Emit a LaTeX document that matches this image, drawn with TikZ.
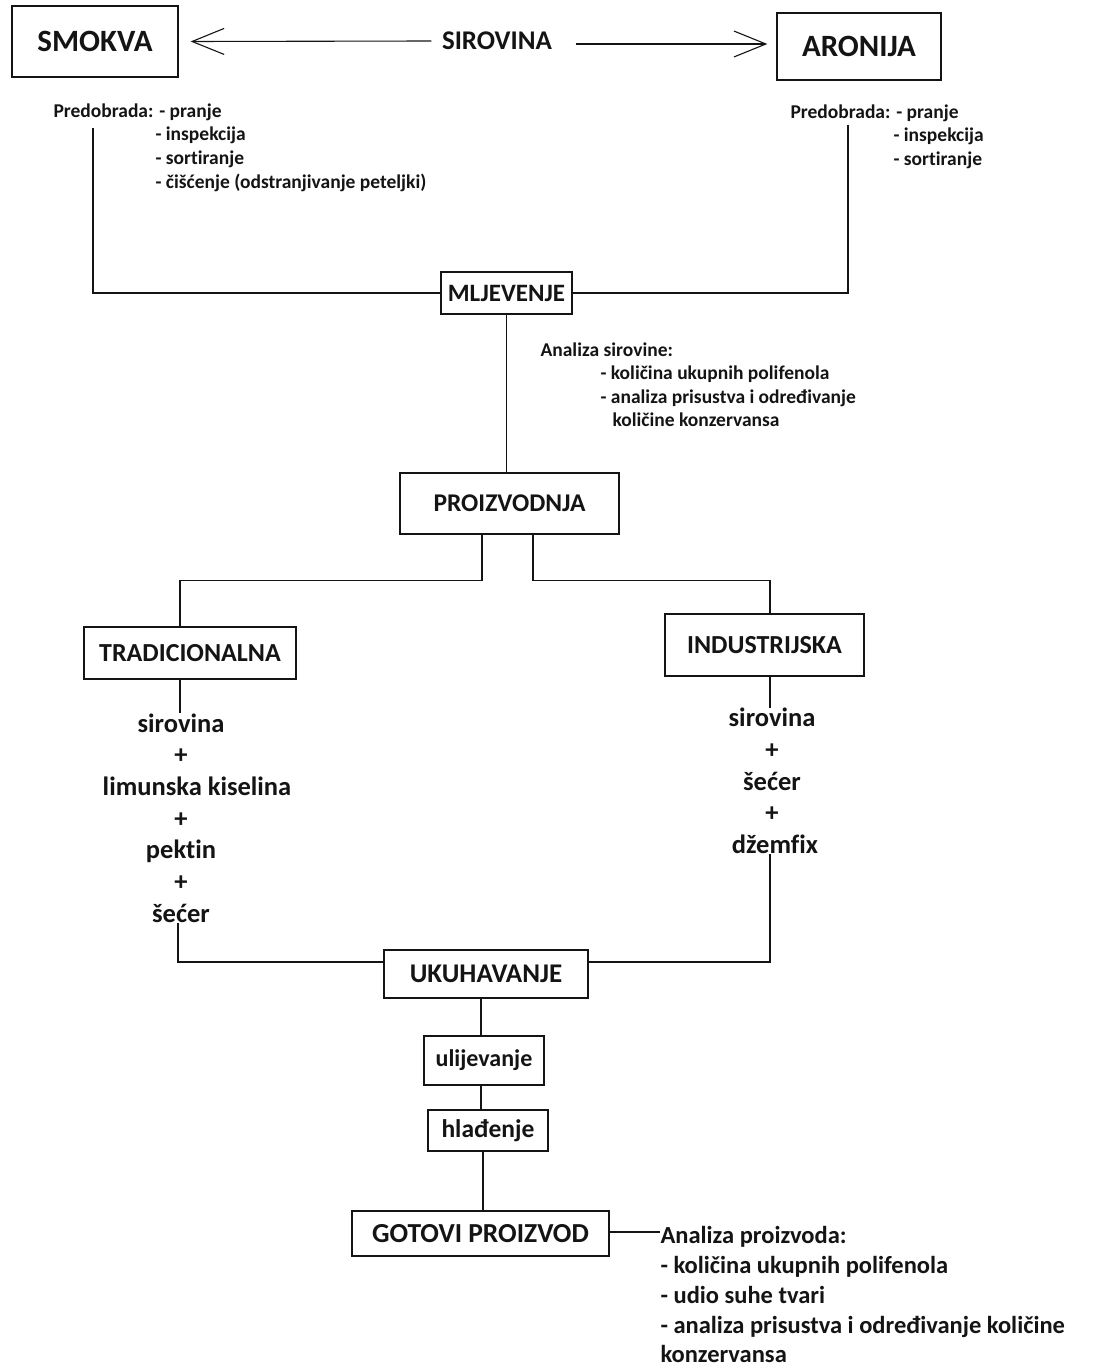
\documentclass[tikz,border=0pt]{standalone}
\usepackage{fontspec}
\setmainfont{Carlito}[Ligatures=NoCommon]
\usetikzlibrary{arrows.meta}
\begin{document}
\begin{tikzpicture}[x=1pt,y=-1pt, line width=1.1pt, color=black!92,
  box/.style={draw, line width=1.3pt, inner sep=0pt, align=center,
    font=\bfseries\fontsize{#1}{#1}\selectfont, text height=#1*0.64pt, text depth=0pt},
  lowbox/.style={box=#1, text height=#1*0.74pt, text depth=#1*0.2pt},
  lbl/.style={inner sep=0pt, font=\bfseries\fontsize{#1}{#1}\selectfont, text height=#1*0.64pt, text depth=0pt},
  txt/.style={inner sep=0pt, font=\bfseries\fontsize{19.5}{23.7}\selectfont, align=left},
  ing/.style={inner sep=0pt, font=\bfseries\fontsize{26.5}{31.7}\selectfont, align=center},
  barb/.style={-{Straight Barb[length=32pt,width=26pt]}}]
\useasboundingbox[fill=white] (0,0) rectangle (1098,1370);

% top row
\node[box=31, minimum width=166pt, minimum height=71pt] (smokva) at (95,41.5) {SMOKVA};
\node[box=31, minimum width=164pt, minimum height=67pt] (aronija) at (859,46.5) {ARONIJA};
\node[lbl=27] (sirovina) at (497,41) {SIROVINA};
\draw[barb] ([xshift=-10pt]sirovina.west) -- ([xshift=12pt]smokva.east);
\draw[barb] ([xshift=23pt,yshift=-3pt]sirovina.east) -- ([xshift=-9pt,yshift=2.5pt]aronija.west);

% pretreatment
\node[txt, anchor=north west] (preL) at (53,103) {Predobrada: - pranje\\\hspace*{102pt}- inspekcija\\\hspace*{102pt}- sortiranje\\\hspace*{102pt}- čišćenje (odstranjivanje peteljki)};
\node[txt, anchor=north west] (preR) at (790,104) {Predobrada: - pranje\\\hspace*{103pt}- inspekcija\\\hspace*{103pt}- sortiranje};

% milling
\node[box=25, minimum width=131pt, minimum height=42pt] (mlj) at (506.5,293) {MLJEVENJE};
\coordinate (pL) at (93,128);
\coordinate (pR) at (848,125);
\draw (pL) |- (mlj.west);
\draw (pR) |- (mlj.east);

\node[txt, anchor=north west, font=\bfseries\fontsize{19.5}{23.5}\selectfont] (anaS) at (540,342) {Analiza sirovine:\\\hspace*{60pt}- količina ukupnih polifenola\\\hspace*{60pt}- analiza prisustva i određivanje\\\hspace*{72pt}količine konzervansa};

% production
\node[box=25.5, minimum width=219pt, minimum height=61pt] (pro) at (509.5,503.5) {PROIZVODNJA};
\draw (mlj.south) -- (mlj.south |- pro.north);

\node[box=26, minimum width=212pt, minimum height=52pt] (trad) at (190,653) {TRADICIONALNA};
\node[box=26, minimum width=199pt, minimum height=62pt] (ind) at (764.5,645) {INDUSTRIJSKA};
\draw ([xshift=-27.5pt]pro.south) -- ++(0,46) -| ([xshift=-10pt]trad.north);
\draw ([xshift=23.5pt]pro.south) -- ++(0,46) -| ([xshift=5.5pt]ind.north);

% ingredients
\node[ing] (tradIng) at (181,818) {sirovina\\+\\\hspace*{32pt}limunska kiselina\\+\\pektin\\+\\šećer};
\node[ing] (indIng) at (772,781) {sirovina\\+\\šećer\\+\\\hspace*{6pt}džemfix};
\draw ([xshift=-10pt]trad.south) -- ([xshift=-10pt]trad.south |- tradIng.north);
\draw ([xshift=5.5pt]ind.south) -- ([xshift=5.5pt]ind.south |- indIng.north);

% cooking
\node[box=27, minimum width=204pt, minimum height=48pt] (uku) at (486,974) {UKUHAVANJE};
\draw ([xshift=-3pt]tradIng.south) |- ([yshift=12pt]uku.west);
\draw (indIng.south -| ind.south) ++(5.5,0) |- ([yshift=12pt]uku.east);

\node[lowbox=24, minimum width=120pt, minimum height=49pt] (ulij) at (484,1060.5) {ulijevanje};
\node[lowbox=25.5, minimum width=120pt, minimum height=41pt] (hlad) at (488,1130.5) {hlađenje};
\node[box=27.5, minimum width=257pt, minimum height=45pt] (got) at (480.5,1233.5) {GOTOVI PROIZVOD};
\draw ([xshift=-5pt]uku.south) -- ([xshift=-5pt]uku.south |- ulij.north);
\draw ([xshift=-3pt]ulij.south) -- ([xshift=-3pt]ulij.south |- hlad.north);
\draw ([xshift=-5pt]hlad.south) -- ([xshift=-5pt]hlad.south |- got.north);

\node[txt, anchor=north west, font=\bfseries\fontsize{24.5}{29.8}\selectfont] (anaP) at (660,1226) {Analiza proizvoda:\\- količina ukupnih polifenola\\- udio suhe tvari\\- analiza prisustva i određivanje količine\\konzervansa};
\draw ([yshift=1.5pt]got.east) -- ([yshift=1.5pt]got.east -| anaP.west);
\end{tikzpicture}
\end{document}
